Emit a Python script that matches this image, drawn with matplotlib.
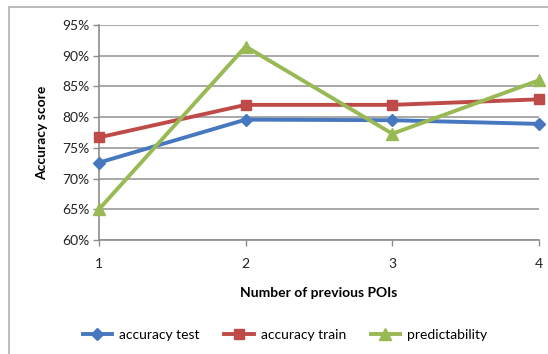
import numpy as np
import matplotlib
matplotlib.use("Agg")
import matplotlib.pyplot as plt
from matplotlib.patches import Rectangle
from matplotlib.ticker import PercentFormatter

plt.rcParams['font.family'] = ['Lato', 'DejaVu Sans']

# data
n_prev = [1, 2, 3, 4]
acc_test = [72.6, 79.6, 79.5, 78.9]
acc_train = [76.7, 82.0, 82.0, 82.9]
predictability = [65.0, 91.5, 77.3, 86.0]
y_ticks = [60, 65, 70, 75, 80, 85, 90, 95]

blue = '#4677BF'
red = '#BE4B48'
green = '#98B954'
grid_grey = '#8C8C8C'

W, H = 548, 354
fig = plt.figure(figsize=(W / 100, H / 100), dpi=100)

# outer chart frame (cropped on the right and bottom like the original)
fig.patches.append(Rectangle((9 / W, -0.1), 1.2, 1 - 7 / H + 0.1, transform=fig.transFigure,
                             fill=False, edgecolor='#B0B0B0', linewidth=1.2))

ax = fig.add_axes([99 / W, 1 - 240 / H, (539 - 99) / W, (240 - 25) / H])

ax.plot(n_prev, acc_test, color=blue, lw=2.8, marker='D', ms=6.5, label='accuracy test', clip_on=False, zorder=3)
ax.plot(n_prev, acc_train, color=red, lw=2.8, marker='s', ms=7.5, label='accuracy train', clip_on=False, zorder=3)
ax.plot(n_prev, predictability, color=green, lw=2.8, marker='^', ms=8, label='predictability', clip_on=False, zorder=4)

ax.set_xlim(1, 4)
ax.set_ylim(60, 95)
ax.set_xticks(n_prev)
ax.set_yticks(y_ticks)
ax.yaxis.set_major_formatter(PercentFormatter(decimals=0))
ax.grid(axis='y', color='#999999', lw=1.2)
ax.set_axisbelow(True)

for s in ['top', 'right']:
    ax.spines[s].set_visible(False)
for s in ['left', 'bottom']:
    ax.spines[s].set_color(grid_grey)
    ax.spines[s].set_linewidth(1.2)

ax.tick_params(axis='both', colors=grid_grey, labelcolor='#222222', labelsize=10, length=4, width=1)
ax.tick_params(axis='x', pad=9)
ax.tick_params(axis='y', pad=3)

ax.set_xlabel('Number of previous POIs', fontsize=10, fontweight='bold', labelpad=12)
ax.set_ylabel('Accuracy score', fontsize=10, fontweight='bold', labelpad=10)

fig.legend(loc='center', bbox_to_anchor=(0.52, 1 - 335 / H), ncol=3, frameon=False,
           fontsize=10, handlelength=2.1, columnspacing=1.8, handletextpad=0.5)

fig.savefig('out.png', dpi=100)
